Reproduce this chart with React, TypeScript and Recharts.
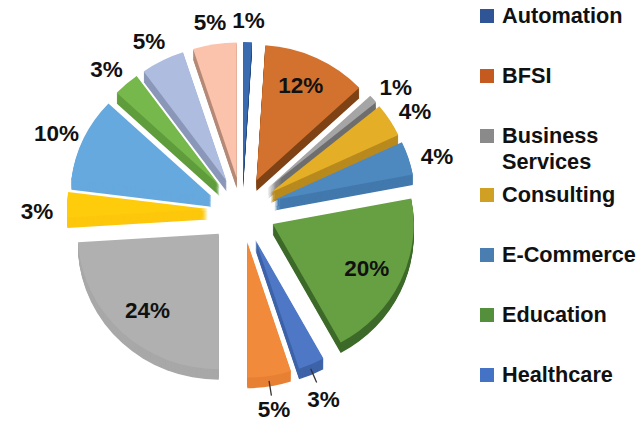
import { PieChart, Pie, Legend, Sector } from 'recharts';

const FONT = '"Liberation Sans", Arial, sans-serif';

// clockwise from 12 o'clock
const VALUES = [1, 12, 1, 4, 4, 20, 3, 5, 24, 3, 10, 3, 5, 5];
// the legend in the picture is cut off after seven entries
const LEGEND_NAMES = ['Automation', 'BFSI', 'Business Services', 'Consulting', 'E-Commerce', 'Education', 'Healthcare'];
const TOP_COLORS = ['#3a6ab0', '#d2722e', '#a5a5a5', '#e5ae27', '#4d88bf', '#66a043', '#4e78c6', '#f28a3c', '#b0b0b0', '#ffcc0c', '#66a9de', '#76b84c', '#aebce0', '#fbc3ab'];
const SIDE_COLORS = ['#264a80', '#7f4215', '#6e6e6e', '#b98a1e', '#4279ad', '#3d6a29', '#3e63a8', '#e88034', '#a8a8a8', '#fdc70c', '#66a9de', '#5f9c3c', '#8a97b8', '#b58a78'];
const SWATCH_COLORS = ['#2f5597', '#c55a20', '#8a8a8a', '#d0a024', '#4a7eb0', '#548f3c', '#4472c4'];
const LEADER_SLICES = [6, 7];

const tableData = VALUES.map((value, i) => ({
  name: LEGEND_NAMES[i] ?? `slice ${i}`,
  value,
  fill: TOP_COLORS[i],
}));

const CX = 242;
const CY = 210;
const EXPLODE = 34;
const DEPTH = 11;
const SQUASH = 0.96;

const ExplodedSlice = (props: any) => {
  const { cx, cy, outerRadius, startAngle, endAngle, midAngle, index, fill } = props;
  const rad = (midAngle * Math.PI) / 180;
  const dx = Math.cos(rad) * EXPLODE;
  const dy = -Math.sin(rad) * EXPLODE;
  const layers = [];
  for (let d = DEPTH; d > 0; d--) {
    layers.push(
      <Sector key={d} cx={cx + dx} cy={cy + dy + d} innerRadius={0} outerRadius={outerRadius} startAngle={startAngle} endAngle={endAngle} fill={SIDE_COLORS[index]} />,
    );
  }
  return (
    <g transform={`translate(0 ${cy}) scale(1 ${SQUASH}) translate(0 ${-cy})`}>
      {layers}
      <Sector cx={cx + dx} cy={cy + dy} innerRadius={0} outerRadius={outerRadius} startAngle={startAngle} endAngle={endAngle} fill={fill} />
    </g>
  );
};

const renderLabel = (props: any) => {
  const { cx, cy, midAngle, index, value } = props;
  const rad = (midAngle * Math.PI) / 180;
  const sx = Math.cos(rad);
  const sy = -Math.sin(rad);
  const inside = value >= 12;
  const x = inside ? cx + sx * 138 : cx + sx * 205;
  // keep the bottom label's text box inside the page
  const y = inside ? cy + sy * 138 : Math.min(cy + 8 + sy * 198, 409);
  return (
    <g key={`label-${index}`}>
      {LEADER_SLICES.includes(index) && (
        <line x1={cx + sx * 173} y1={cy + sy * 173} x2={cx + sx * 188} y2={cy + sy * 188} stroke="#333" strokeWidth={1.3} />
      )}
      <text x={x} y={y} textAnchor="middle" dominantBaseline="central" fontFamily={FONT} fontWeight="bold" fontSize={22.5} fill="#111">
        {`${value}%`}
      </text>
    </g>
  );
};

const renderLegend = () => (
  <div style={{ position: 'relative', fontFamily: FONT, fontWeight: 'bold', fontSize: 21.7, color: '#111', lineHeight: '26px' }}>
    {LEGEND_NAMES.map((name, i) => (
      <div key={name} style={{ position: 'absolute', left: 0, top: 3 + i * 59.8 }}>
        <span style={{ position: 'absolute', left: 0, top: 6, width: 14, height: 14, background: SWATCH_COLORS[i] }} />
        <span style={{ position: 'absolute', left: 22, top: 0, width: 140 }}>{name}</span>
      </div>
    ))}
  </div>
);

export default function App() {
  return (
    <div style={{ position: 'absolute', left: 0, top: 0, background: '#fff' }}>
      <PieChart width={642} height={423} margin={{ top: 0, right: 0, bottom: 0, left: 0 }}>
        <Pie
          data={tableData}
          dataKey="value"
          nameKey="name"
          cx={CX}
          cy={CY}
          innerRadius={0}
          outerRadius={141}
          startAngle={90}
          endAngle={-270}
          stroke="none"
          shape={ExplodedSlice}
          label={renderLabel}
          labelLine={false}
          isAnimationActive={false}
        />
        <Legend content={renderLegend} wrapperStyle={{ left: 480, top: 0, width: 162, height: 0 }} />
      </PieChart>
    </div>
  );
}
